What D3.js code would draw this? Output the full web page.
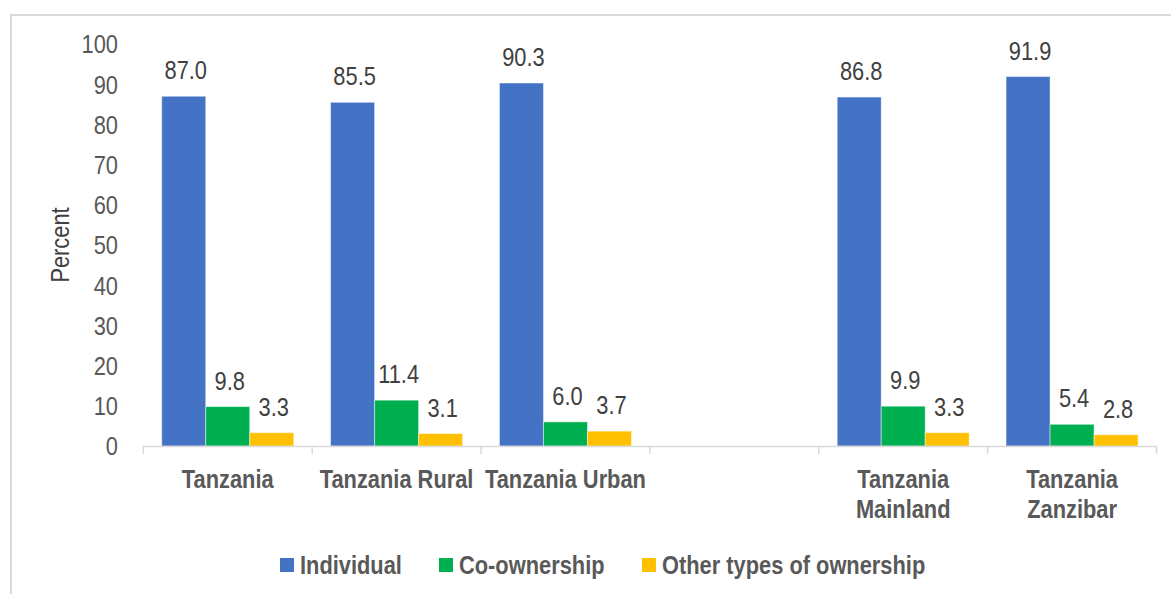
<!DOCTYPE html>
<html>
<head>
<meta charset="utf-8">
<script src="https://cdn.jsdelivr.net/npm/d3@7"></script>
<style>
  html, body { margin: 0; padding: 0; background: #fff; overflow: hidden; }
  svg { display: block; font-family: "Liberation Sans Narrow", "Arial Narrow", "Liberation Sans", Arial, sans-serif; }
</style>
</head>
<body>
<svg id="chart" width="1171" height="594"></svg>
<script>
const categories = ["Tanzania", "Tanzania Rural", "Tanzania Urban", "", "Tanzania Mainland", "Tanzania Zanzibar"];
const categoryLabelLines = [["Tanzania"], ["Tanzania Rural"], ["Tanzania Urban"], [], ["Tanzania", "Mainland"], ["Tanzania", "Zanzibar"]];
const seriesNames = ["Individual", "Co-ownership", "Other types of ownership"];
const individual = [87.0, 85.5, 90.3, null, 86.8, 91.9];
const coOwnership = [9.8, 11.4, 6.0, null, 9.9, 5.4];
const otherTypes = [3.3, 3.1, 3.7, null, 3.3, 2.8];
const yTicks = [0, 10, 20, 30, 40, 50, 60, 70, 80, 90, 100];
const colors = ["#4472C4", "#00B050", "#FFC000"];

const seriesValues = [individual, coOwnership, otherTypes];
const svg = d3.select("#chart");
const SX = 0.84; // horizontal condensing to emulate a narrow face
const FS = 26;

function narrowText(sel, x, y, rot) {
  return sel.attr("transform", (d, i) => {
    const xx = typeof x === "function" ? x(d, i) : x;
    const yy = typeof y === "function" ? y(d, i) : y;
    return `translate(${xx},${yy})` + (rot ? ` rotate(${rot})` : "") + ` scale(${SX},1)`;
  });
}

// outer frame
svg.append("rect").attr("x", 11).attr("y", 15).attr("width", 1200).attr("height", 640)
  .attr("fill", "none").attr("stroke", "#d9d9d9").attr("stroke-width", 2);

const x0 = d3.scaleBand().domain(d3.range(categories.length)).range([143.3, 1156.5]).paddingInner(0).paddingOuter(0);
const x1 = d3.scaleBand().domain(d3.range(seriesNames.length)).range([0, x0.bandwidth()]).paddingInner(0).paddingOuter(0.419);
const y = d3.scaleLinear().domain([0, 100]).range([446, 44]);

// y tick labels
narrowText(svg.append("g").selectAll("text").data(yTicks).join("text"), 118, d => y(d))
  .attr("dy", "0.36em")
  .attr("text-anchor", "end").attr("font-size", FS).attr("fill", "#595959")
  .text(d => d);

// y axis title
narrowText(svg.append("text"), 69, 245, -90)
  .attr("text-anchor", "middle").attr("font-size", FS).attr("fill", "#404040")
  .text("Percent");

// bars
const groups = svg.append("g").selectAll("g").data(categories.map((c, i) => i)).join("g")
  .attr("transform", i => `translate(${x0(i)},0)`);

groups.each(function(i) {
  const g = d3.select(this);
  seriesValues.forEach((vals, s) => {
    const v = vals[i];
    if (v == null) return;
    g.append("rect")
      .attr("x", x1(s)).attr("y", y(v))
      .attr("width", x1.bandwidth()).attr("height", y(0) - y(v))
      .attr("fill", colors[s]).attr("stroke", "#ffffff").attr("stroke-opacity", 0.45).attr("stroke-width", 1);
    narrowText(g.append("text"), x1(s) + x1.bandwidth() / 2 + 2, y(v) - 17)
      .attr("text-anchor", "middle").attr("font-size", FS).attr("fill", "#404040")
      .text(v.toFixed(1));
  });
});

// x axis line and ticks
const axisG = svg.append("g");
axisG.append("line").attr("x1", x0.range()[0]).attr("x2", x0.range()[1]).attr("y1", y(0) + 0.5).attr("y2", y(0) + 0.5)
  .attr("stroke", "#d9d9d9").attr("stroke-width", 1.5);
const boundaries = categories.map((c, i) => x0(i)).concat([x0.range()[1]]);
axisG.selectAll("line.tick").data(boundaries).join("line").attr("class", "tick")
  .attr("x1", d => d).attr("x2", d => d).attr("y1", y(0)).attr("y2", y(0) + 8)
  .attr("stroke", "#d9d9d9").attr("stroke-width", 1.5);

// category labels
const catG = svg.append("g");
categories.forEach((c, i) => {
  categoryLabelLines[i].forEach((line, k) => {
    narrowText(catG.append("text"), x0(i) + x0.bandwidth() / 2, 488 + k * 30)
      .attr("text-anchor", "middle").attr("font-size", FS).attr("font-weight", "bold").attr("fill", "#595959")
      .text(line);
  });
});

// legend
const legendX = [280, 439, 642];
const legend = svg.append("g").selectAll("g").data(seriesNames).join("g")
  .attr("transform", (d, i) => `translate(${legendX[i]},558)`);
legend.append("rect").attr("width", 14).attr("height", 14).attr("fill", (d, i) => colors[i]);
narrowText(legend.append("text"), 20, 7)
  .attr("dy", "0.36em")
  .attr("font-size", FS).attr("font-weight", "bold").attr("fill", "#595959").text(d => d);
</script>
</body>
</html>
